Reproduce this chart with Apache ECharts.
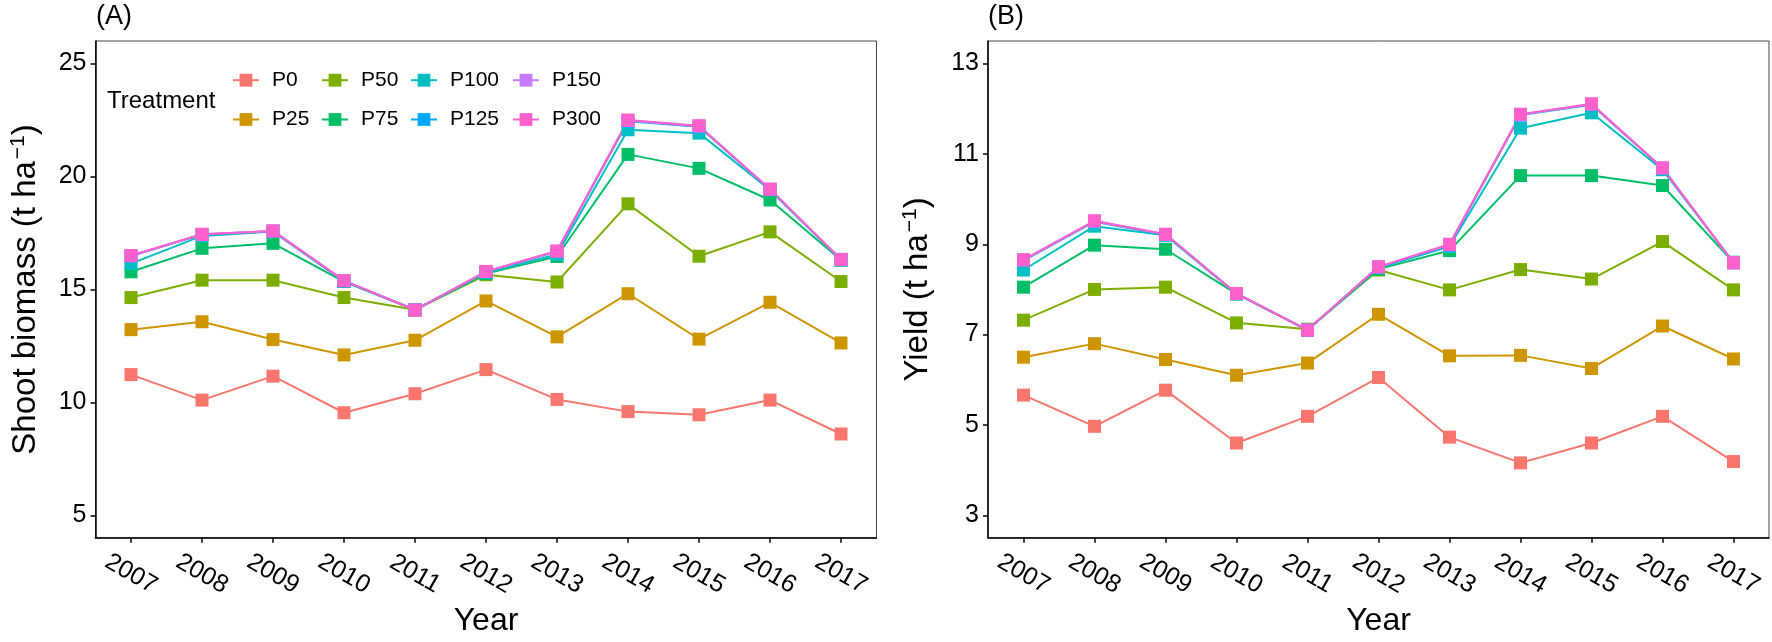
<!DOCTYPE html>
<html lang="en">
<head>
	<meta charset="UTF-8">
	<title>Shoot biomass and yield by P treatment</title>
	<script src="https://cdn.jsdelivr.net/npm/echarts@6/dist/echarts.min.js"></script>
	<style>
		html, body { margin: 0; padding: 0; background: #fff; }
		#chart { width: 1772px; height: 642px; }
	</style>
</head>
<body>
	<div id="chart"></div>

	<script>
		// ---- data ----
		var years = ['2007', '2008', '2009', '2010', '2011', '2012', '2013', '2014', '2015', '2016', '2017'];
		var treatments = ['P0', 'P25', 'P50', 'P75', 'P100', 'P125', 'P150', 'P300'];
		var colors = ['#F8766D', '#CD9600', '#7CAE00', '#00BE67', '#00BFC4', '#00A9FF', '#C77CFF', '#FF61CC'];

		// (A) shoot biomass, t/ha
		var biomassP0   = [11.23, 10.10, 11.16, 9.54, 10.38, 11.45, 10.13, 9.59, 9.45, 10.10, 8.60];
		var biomassP25  = [13.22, 13.57, 12.78, 12.10, 12.75, 14.49, 12.90, 14.81, 12.80, 14.43, 12.63];
		var biomassP50  = [14.64, 15.41, 15.41, 14.64, 14.10, 15.65, 15.33, 18.79, 16.47, 17.55, 15.35];
		var biomassP75  = [15.78, 16.82, 17.04, 15.35, 14.10, 15.70, 16.46, 20.98, 20.36, 18.96, 16.30];
		var biomassP100 = [16.14, 17.37, 17.56, 15.35, 14.10, 15.75, 16.55, 22.07, 21.92, 19.40, 16.30];
		var biomassP125 = [16.48, 17.43, 17.58, 15.38, 14.10, 15.78, 16.68, 22.45, 22.20, 19.43, 16.32];
		var biomassP150 = [16.49, 17.44, 17.59, 15.39, 14.10, 15.79, 16.69, 22.48, 22.23, 19.44, 16.33];
		var biomassP300 = [16.50, 17.44, 17.59, 15.39, 14.08, 15.80, 16.70, 22.50, 22.25, 19.44, 16.33];

		// (B) yield, t/ha
		var yieldP0   = [5.66, 4.97, 5.77, 4.60, 5.19, 6.05, 4.73, 4.16, 4.60, 5.19, 4.19];
		var yieldP25  = [6.50, 6.80, 6.45, 6.10, 6.37, 7.45, 6.53, 6.54, 6.25, 7.19, 6.46];
		var yieldP50  = [7.32, 8.00, 8.05, 7.26, 7.12, 8.43, 7.99, 8.44, 8.23, 9.06, 7.99];
		var yieldP75  = [8.05, 8.98, 8.89, 7.90, 7.10, 8.45, 8.86, 10.52, 10.52, 10.30, 8.60];
		var yieldP100 = [8.43, 9.40, 9.20, 7.90, 7.10, 8.48, 8.95, 11.57, 11.91, 10.65, 8.60];
		var yieldP125 = [8.64, 9.50, 9.21, 7.91, 7.10, 8.49, 8.98, 11.86, 12.09, 10.68, 8.59];
		var yieldP150 = [8.65, 9.51, 9.22, 7.91, 7.10, 8.50, 8.99, 11.87, 12.10, 10.69, 8.59];
		var yieldP300 = [8.66, 9.52, 9.22, 7.91, 7.10, 8.50, 9.00, 11.88, 12.11, 10.69, 8.59];

		var biomassTicks = [5, 10, 15, 20, 25];
		var yieldTicks = [3, 5, 7, 9, 11, 13];

		var biomass = [biomassP0, biomassP25, biomassP50, biomassP75, biomassP100, biomassP125, biomassP150, biomassP300];
		var yields = [yieldP0, yieldP25, yieldP50, yieldP75, yieldP100, yieldP125, yieldP150, yieldP300];

		// ---- layout ----
		var FONT = '"Liberation Sans", Arial, sans-serif';

		function xAxisOf(idx) {
			return {
				type: 'category',
				gridIndex: idx,
				data: years,
				boundaryGap: true,
				name: 'Year',
				nameLocation: 'middle',
				nameGap: 64,
				nameTextStyle: { color: '#000', fontSize: 32, lineHeight: 32, fontFamily: FONT },
				axisLine: { show: true, lineStyle: { color: '#000', width: 1.5 } },
				axisTick: { show: true, alignWithLabel: true, length: 5, lineStyle: { color: '#000', width: 1.5 } },
				axisLabel: {
					interval: 0, rotate: -30, margin: 36,
					align: 'center', verticalAlign: 'middle',
					color: '#000', fontSize: 25, fontFamily: FONT
				},
				splitLine: { show: false }
			};
		}

		function yAxisOf(idx, min, max, ticks, label) {
			return {
				type: 'value',
				gridIndex: idx,
				min: min,
				max: max,
				name: '{a|' + label + ' (t ha}{s|−1}{a|)}',
				nameLocation: 'middle',
				nameGap: 52,
				nameTextStyle: {
					rich: {
						a: { color: '#000', fontSize: 33, fontFamily: FONT, lineHeight: 36 },
						s: { color: '#000', fontSize: 21, fontFamily: FONT, verticalAlign: 'top', lineHeight: 36, padding: [0, 0, 12, 2] }
					}
				},
				axisLine: { show: true, lineStyle: { color: '#000', width: 1.5 } },
				axisTick: { show: true, length: 5, customValues: ticks, lineStyle: { color: '#000', width: 1.5 } },
				axisLabel: { customValues: ticks, margin: 9, color: '#000', fontSize: 25, fontFamily: FONT },
				splitLine: { show: false }
			};
		}

		var series = [];
		// lines first, points on top (like geom_line + geom_point)
		[biomass, yields].forEach(function (set, g) {
			treatments.forEach(function (t, i) {
				series.push({
					name: t, type: 'line', xAxisIndex: g, yAxisIndex: g,
					data: set[i], symbol: 'rect', symbolSize: 13, showSymbol: false,
					lineStyle: { color: colors[i], width: 2 }, itemStyle: { color: colors[i] },
					silent: true, animation: false, z: 2
				});
			});
		});
		[biomass, yields].forEach(function (set, g) {
			treatments.forEach(function (t, i) {
				series.push({
					name: t, type: 'scatter', xAxisIndex: g, yAxisIndex: g,
					data: set[i], symbol: 'rect', symbolSize: 13,
					itemStyle: { color: colors[i], opacity: 1 },
					silent: true, animation: false, z: 3
				});
			});
		});

		// legend as 4 columns x 2 rows, column-major
		var legendCols = [232, 321, 410, 512];
		var legendRows = [80.7, 120];
		var legends = treatments.map(function (t, i) {
			return {
				data: [t],
				left: legendCols[Math.floor(i / 2)],
				top: legendRows[i % 2] - 11,
				padding: 0,
				itemWidth: 26,
				itemHeight: 16,
				selectedMode: false,
				textStyle: { color: '#000', fontSize: 21, fontFamily: FONT, padding: [0, 0, 0, 8] }
			};
		});

		var option = {
			backgroundColor: '#fff',
			animation: false,
			grid: [
				{ left: 95.5, right: 895.5, top: 41, bottom: 95, show: true, borderColor: '#444', borderWidth: 1 },
				{ left: 988, right: 3, top: 41, bottom: 95, show: true, borderColor: '#444', borderWidth: 1 }
			],
			xAxis: [xAxisOf(0), xAxisOf(1)],
			yAxis: [
				yAxisOf(0, 4, 26, biomassTicks, 'Shoot biomass'),
				yAxisOf(1, 2.5, 13.5, yieldTicks, 'Yield')
			],
			legend: legends,
			graphic: [
				{ type: 'text', left: 96, top: 3, style: { text: '(A)', fill: '#000', fontSize: 27, fontFamily: FONT } },
				{ type: 'text', left: 988, top: 3, style: { text: '(B)', fill: '#000', fontSize: 27, fontFamily: FONT } },
				{ type: 'text', left: 107, top: 89, style: { text: 'Treatment', fill: '#000', fontSize: 24, fontFamily: FONT } }
			],
			series: series
		};

		var chart = echarts.init(document.getElementById('chart'));
		chart.setOption(option);
	</script>
</body>
</html>
